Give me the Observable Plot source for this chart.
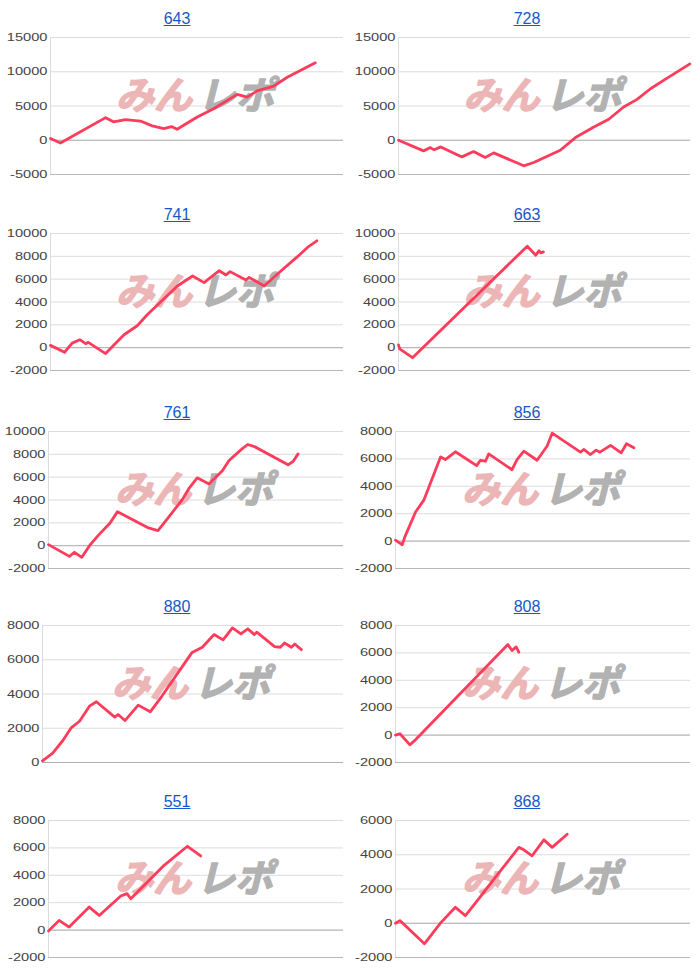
<!DOCTYPE html>
<html><head><meta charset="utf-8">
<script src="https://cdn.jsdelivr.net/npm/d3@7"></script>
<script src="https://cdn.jsdelivr.net/npm/@observablehq/plot@0.6"></script>
<style>
body{margin:0;background:#fff;}
#wrap{position:relative;width:700px;height:980px;overflow:hidden;font-family:"Liberation Sans",Arial,sans-serif;}
.panel{position:absolute;width:350px;height:196px;}
.panel svg{position:absolute;left:0;top:0;}
.title{position:absolute;left:2px;width:350px;top:8px;text-align:center;font-size:16px;line-height:22px;z-index:2;}
.title a{color:#1558c7;text-decoration:underline;}
</style></head><body><div id="wrap"></div>
<script>
// Panel titles (machine numbers)
const titles = ["643","728","741","663","761","856","880","808","551","868"];

// y tick sets
const ticksA = [-5000, 0, 5000, 10000, 15000];
const ticksB = [-2000, 0, 2000, 4000, 6000, 8000, 10000];
const ticksC = [-2000, 0, 2000, 4000, 6000, 8000];
const ticksD = [0, 2000, 4000, 6000, 8000];
const ticksE = [-2000, 0, 2000, 4000, 6000];

// Series: x = progress (% of common x range), y = cumulative difference
const x643 = [0,3.4,18.8,21.5,25.6,30.7,34.7,38.7,41.3,43.2,50.1,55.7,63.7,67.1,70.5,76.2,80.8,90.4];
const y643 = [250,-400,3300,2700,3000,2800,2100,1700,2000,1600,3400,4600,6700,6300,7200,7900,9200,11300];

const x728 = [0,8.6,10.9,12.2,14.5,21.7,25.7,29.7,32.6,42.9,46.3,55.4,60.6,66.9,72.0,77.1,81.7,86.3,90.9,99.8];
const y728 = [0,-1550,-1070,-1400,-970,-2430,-1650,-2520,-1840,-3730,-3250,-1460,390,1940,3060,4850,5970,7520,8780,11150];

const x741 = [0,4.8,7.4,10.0,12.0,12.9,18.8,25.1,29.6,33.0,43.3,48.5,52.4,57.6,59.9,61.3,66.7,67.8,72.9,79.7,84.3,87.7,90.9];
const y741 = [200,-400,400,700,350,470,-520,1130,1920,2880,5400,6280,5700,6740,6370,6660,5930,6160,5400,6950,7970,8780,9360];

const x663 = [0,0.4,4.8,44.1,47.0,48.1,48.8,49.6];
const y663 = [250,-100,-880,8890,8100,8480,8300,8390];

const x761 = [0,7.1,8.8,11.3,13.9,16.8,20.8,23.4,33.9,37.1,39.6,45.3,47.5,50.4,54.4,59.0,61.2,65.2,67.5,69.8,81.2,82.9,84.6];
const y761 = [90,-940,-580,-1020,0,880,1960,2980,1550,1320,2130,4010,4970,5940,5410,6580,7460,8390,8860,8680,7080,7370,8040];

const x856 = [0,2.3,3.1,6.8,9.6,15.3,16.9,20.3,27.5,28.8,30.5,31.6,39.5,41.2,43.5,48.0,51.4,53.1,62.7,63.8,66.1,68.0,69.3,72.9,76.5,78.3,80.8];
const y856 = [70,-270,270,2120,2990,6150,5950,6520,5510,5900,5830,6370,5210,5950,6570,5900,6940,7880,6490,6690,6320,6640,6490,6990,6440,7110,6810];

const x880 = [0,3.4,6.7,9.5,12.3,15.6,17.9,24.0,25.1,27.4,31.8,35.8,39.7,49.7,53.1,57.0,60.0,63.1,65.9,68.2,70.4,71.2,77.1,79.0,80.4,82.7,83.8,86.0];
const y880 = [100,550,1270,2020,2410,3290,3550,2650,2800,2450,3350,2960,3880,6430,6730,7470,7160,7860,7510,7800,7470,7610,6770,6730,6980,6730,6920,6590];

const x808 = [0,1.5,4.9,6.2,38.1,39.5,40.9,41.8];
const y808 = [0,100,-710,-460,6610,6170,6440,6050];

const x551 = [0,3.6,7.0,13.8,17.2,24.5,26.6,27.9,39.2,47.1,51.6];
const y551 = [-70,710,220,1680,1070,2490,2660,2290,4730,6120,5410];

const x868 = [0,1.5,9.8,15.3,20.3,23.7,28.2,34.5,41.8,43.5,46.3,50.3,53.1,58.2];
const y868 = [0,155,-1200,20,930,450,1420,2820,4430,4290,3940,4870,4430,5200];

const panels = [
  {xs:x643, ys:y643, ticks:ticksA, ml:50},
  {xs:x728, ys:y728, ticks:ticksA, ml:48},
  {xs:x741, ys:y741, ticks:ticksB, ml:50},
  {xs:x663, ys:y663, ticks:ticksB, ml:48},
  {xs:x761, ys:y761, ticks:ticksB, ml:48},
  {xs:x856, ys:y856, ticks:ticksC, ml:45},
  {xs:x880, ys:y880, ticks:ticksD, ml:42},
  {xs:x808, ys:y808, ticks:ticksC, ml:45},
  {xs:x551, ys:y551, ticks:ticksC, ml:48},
  {xs:x868, ys:y868, ticks:ticksE, ml:45}
];
const rowTops = [0, 196, 394, 588, 783];

const wrap = document.getElementById("wrap");
panels.forEach((p, i) => {
  const col = i % 2, row = Math.floor(i / 2);
  const div = document.createElement("div");
  div.className = "panel";
  div.style.left = (col * 350) + "px";
  div.style.top = rowTops[row] + "px";
  const t = document.createElement("div");
  t.className = "title";
  t.innerHTML = `<a>${titles[i]}</a>`;
  div.appendChild(t);
  const data = p.xs.map((x, k) => ({x, y: p.ys[k]}));
  const lo = p.ticks[0], hi = p.ticks[p.ticks.length - 1];
  const svg = Plot.plot({
    width: 350, height: 196,
    marginTop: 37, marginBottom: 22,
    marginLeft: p.ml, marginRight: col ? 10 : 7,
    x: {domain: [0, 100], axis: null},
    y: {domain: [lo, hi]},
    style: {fontFamily: "Liberation Sans, Arial, sans-serif", color: "#444", background: "transparent", overflow: "visible"},
    marks: [
      Plot.gridY(p.ticks, {stroke: "#dcdcdc", strokeOpacity: 1}),
      Plot.ruleX([0], {stroke: "#dcdcdc"}),
      Plot.ruleY([lo], {stroke: "#b8b8b8"}),
      Plot.ruleY([0], {stroke: "#b0b0b0"}),
      Plot.text([0], {frameAnchor: "middle", text: () => "みん", dx: -43, dy: -9, fontSize: 38, fontWeight: "bold", fontStyle: "italic", fill: "#ecb6b6", stroke: "#ecb6b6", strokeWidth: 1.5, fontFamily: "Noto Sans CJK JP"}),
      Plot.text([0], {frameAnchor: "middle", text: () => "レポ", dx: 39, dy: -9, fontSize: 38, fontWeight: "bold", fontStyle: "italic", fill: "#b2b2b2", stroke: "#b2b2b2", strokeWidth: 1.5, fontFamily: "Noto Sans CJK JP"}),
      Plot.line(data, {x: "x", y: "y", stroke: "#fd3c5c", strokeWidth: 2.8}),
      Plot.axisY(p.ticks, {tickSize: 0, tickPadding: 3, tickFormat: d => String(d), fontSize: 11, label: null})
    ]
  });
  svg.querySelectorAll('g[aria-label="y-axis tick label"] text').forEach(tx => {
    const tr = tx.getAttribute("transform");
    if (tr) tx.setAttribute("transform", tr + " scale(1.33,1)");
    else {
      const x = +tx.getAttribute("x") || 0, y = +tx.getAttribute("y") || 0;
      tx.removeAttribute("x"); tx.removeAttribute("y");
      tx.setAttribute("transform", `translate(${x},${y}) scale(1.33,1)`);
    }
  });
  div.appendChild(svg);
  wrap.appendChild(div);
});
</script>
</body></html>
